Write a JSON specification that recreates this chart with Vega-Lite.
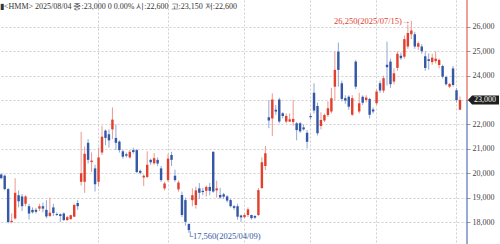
{
  "$schema": "https://vega.github.io/schema/vega-lite/v6.json",
  "width": 467,
  "height": 244,
  "padding": {"left": 0, "top": 0, "right": 33, "bottom": 0},
  "autosize": {"type": "none"},
  "background": "white",
  "config": {"view": {"stroke": null}, "font": "Liberation Sans Narrow"},
  "title": {"text": "▮<HMM> 2025/08/04 종:23,000 0 0.00% 시:22,600 고:23,150 저:22,600", "anchor": "start", "frame": "group", "orient": "top", "offset": -11, "fontSize": 8, "fontWeight": "normal", "color": "#333333", "font": "Liberation Sans Narrow"},
  "datasets": {
    "k": [
      {"d":"2025-01-16","o":19950,"h":20000,"l":19750,"c":19800},
      {"d":"2025-01-17","o":19900,"h":19950,"l":19300,"c":19350},
      {"d":"2025-01-20","o":19350,"h":19400,"l":17950,"c":18000},
      {"d":"2025-01-21","o":18000,"h":18350,"l":17950,"c":18050},
      {"d":"2025-01-22","o":18150,"h":19800,"l":18100,"c":19200},
      {"d":"2025-01-23","o":19100,"h":19300,"l":18600,"c":18850},
      {"d":"2025-01-24","o":19050,"h":19150,"l":18450,"c":18650},
      {"d":"2025-01-31","o":18750,"h":19100,"l":18650,"c":19050},
      {"d":"2025-02-03","o":18650,"h":18750,"l":18100,"c":18350},
      {"d":"2025-02-04","o":18500,"h":18600,"l":18350,"c":18400},
      {"d":"2025-02-05","o":18500,"h":18580,"l":18350,"c":18420},
      {"d":"2025-02-06","o":18550,"h":18750,"l":18450,"c":18650},
      {"d":"2025-02-07","o":18650,"h":18800,"l":18400,"c":18550},
      {"d":"2025-02-10","o":18500,"h":18900,"l":18150,"c":18230},
      {"d":"2025-02-11","o":18250,"h":19000,"l":18200,"c":18380},
      {"d":"2025-02-12","o":18600,"h":18750,"l":18250,"c":18370},
      {"d":"2025-02-13","o":18330,"h":18400,"l":18250,"c":18290},
      {"d":"2025-02-14","o":18320,"h":18350,"l":18000,"c":18250},
      {"d":"2025-02-17","o":18350,"h":18400,"l":18050,"c":18080},
      {"d":"2025-02-18","o":18080,"h":18250,"l":18050,"c":18200},
      {"d":"2025-02-19","o":18120,"h":18300,"l":18100,"c":18280},
      {"d":"2025-02-20","o":18220,"h":18750,"l":18200,"c":18700},
      {"d":"2025-02-21","o":18780,"h":18900,"l":18500,"c":18650},
      {"d":"2025-02-24","o":19650,"h":21700,"l":19500,"c":20000},
      {"d":"2025-02-25","o":19650,"h":21100,"l":19200,"c":20800},
      {"d":"2025-02-26","o":21250,"h":21400,"l":20400,"c":20550},
      {"d":"2025-02-27","o":20460,"h":20850,"l":20050,"c":20520},
      {"d":"2025-02-28","o":20200,"h":20350,"l":19250,"c":19550},
      {"d":"2025-03-04","o":19650,"h":21050,"l":19450,"c":20650},
      {"d":"2025-03-05","o":20850,"h":21950,"l":20750,"c":21500},
      {"d":"2025-03-06","o":21750,"h":21800,"l":21150,"c":21450},
      {"d":"2025-03-07","o":21600,"h":21800,"l":21050,"c":21350},
      {"d":"2025-03-10","o":21800,"h":22700,"l":21400,"c":22200},
      {"d":"2025-03-11","o":21450,"h":22000,"l":20950,"c":21250},
      {"d":"2025-03-12","o":21300,"h":21350,"l":20850,"c":20950},
      {"d":"2025-03-13","o":20900,"h":20950,"l":20600,"c":20680},
      {"d":"2025-03-14","o":20780,"h":20850,"l":20650,"c":20720},
      {"d":"2025-03-17","o":20650,"h":20950,"l":20600,"c":20880},
      {"d":"2025-03-18","o":20950,"h":21050,"l":20800,"c":20870},
      {"d":"2025-03-19","o":20950,"h":21000,"l":20000,"c":20050},
      {"d":"2025-03-20","o":20100,"h":20150,"l":19950,"c":20020},
      {"d":"2025-03-21","o":19830,"h":19950,"l":19480,"c":19900},
      {"d":"2025-03-24","o":19850,"h":20900,"l":19800,"c":20350},
      {"d":"2025-03-25","o":20550,"h":20600,"l":20350,"c":20450},
      {"d":"2025-03-26","o":20410,"h":20830,"l":20350,"c":20620},
      {"d":"2025-03-27","o":20550,"h":20650,"l":20300,"c":20400},
      {"d":"2025-03-28","o":20200,"h":20300,"l":19650,"c":19720},
      {"d":"2025-03-31","o":19380,"h":19650,"l":19300,"c":19580},
      {"d":"2025-04-01","o":19720,"h":20800,"l":19650,"c":20600},
      {"d":"2025-04-02","o":20750,"h":20880,"l":20300,"c":20550},
      {"d":"2025-04-03","o":19900,"h":20150,"l":19650,"c":19720},
      {"d":"2025-04-04","o":19340,"h":19700,"l":19250,"c":19620},
      {"d":"2025-04-07","o":19110,"h":19250,"l":18200,"c":18290},
      {"d":"2025-04-08","o":18900,"h":19000,"l":17850,"c":18010},
      {"d":"2025-04-09","o":17920,"h":17950,"l":17560,"c":17670},
      {"d":"2025-04-10","o":18900,"h":19380,"l":18650,"c":19100},
      {"d":"2025-04-11","o":18700,"h":19450,"l":18550,"c":19300},
      {"d":"2025-04-14","o":19380,"h":19600,"l":18950,"c":19200},
      {"d":"2025-04-15","o":19280,"h":19400,"l":19100,"c":19230},
      {"d":"2025-04-16","o":19280,"h":19500,"l":19050,"c":19440},
      {"d":"2025-04-17","o":19440,"h":19600,"l":19100,"c":19280},
      {"d":"2025-04-18","o":20880,"h":20900,"l":19200,"c":19250},
      {"d":"2025-04-21","o":19300,"h":19700,"l":19000,"c":19380},
      {"d":"2025-04-22","o":19110,"h":19400,"l":18950,"c":19010},
      {"d":"2025-04-23","o":19140,"h":19200,"l":18950,"c":19040},
      {"d":"2025-04-24","o":19050,"h":19100,"l":18800,"c":18880},
      {"d":"2025-04-25","o":18900,"h":18950,"l":18600,"c":18650},
      {"d":"2025-04-28","o":18650,"h":18700,"l":18500,"c":18580},
      {"d":"2025-04-29","o":18650,"h":18750,"l":18100,"c":18220},
      {"d":"2025-04-30","o":18270,"h":18300,"l":18000,"c":18190},
      {"d":"2025-05-02","o":18200,"h":18350,"l":18150,"c":18290},
      {"d":"2025-05-07","o":18290,"h":18600,"l":18200,"c":18520},
      {"d":"2025-05-08","o":18290,"h":18300,"l":18100,"c":18160},
      {"d":"2025-05-09","o":18250,"h":18280,"l":18120,"c":18180},
      {"d":"2025-05-12","o":18290,"h":19400,"l":18250,"c":19310},
      {"d":"2025-05-13","o":19400,"h":20650,"l":19350,"c":20450},
      {"d":"2025-05-14","o":20300,"h":21120,"l":20130,"c":20820},
      {"d":"2025-05-15","o":22300,"h":23000,"l":21850,"c":22160},
      {"d":"2025-05-16","o":22250,"h":23280,"l":21530,"c":23030},
      {"d":"2025-05-19","o":22600,"h":22800,"l":22400,"c":22530},
      {"d":"2025-05-20","o":23030,"h":23100,"l":22050,"c":22120},
      {"d":"2025-05-21","o":22460,"h":22500,"l":22250,"c":22350},
      {"d":"2025-05-22","o":22120,"h":22450,"l":22050,"c":22350},
      {"d":"2025-05-23","o":22120,"h":22450,"l":22100,"c":22210},
      {"d":"2025-05-26","o":22100,"h":23000,"l":21950,"c":22230},
      {"d":"2025-05-27","o":22050,"h":22100,"l":21350,"c":21770},
      {"d":"2025-05-28","o":22050,"h":22100,"l":21650,"c":21720},
      {"d":"2025-05-29","o":21880,"h":22000,"l":21750,"c":21800},
      {"d":"2025-05-30","o":21660,"h":21770,"l":21020,"c":21290},
      {"d":"2025-06-02","o":22350,"h":22450,"l":22200,"c":22300},
      {"d":"2025-06-04","o":23300,"h":23690,"l":22460,"c":22570},
      {"d":"2025-06-05","o":22760,"h":22900,"l":21550,"c":21640},
      {"d":"2025-06-09","o":21940,"h":22500,"l":21800,"c":22180},
      {"d":"2025-06-10","o":22160,"h":22450,"l":22100,"c":22390},
      {"d":"2025-06-11","o":22390,"h":22950,"l":22300,"c":22670},
      {"d":"2025-06-12","o":22530,"h":23500,"l":22450,"c":23080},
      {"d":"2025-06-13","o":23550,"h":25000,"l":23000,"c":24240},
      {"d":"2025-06-16","o":24990,"h":25360,"l":23550,"c":24240},
      {"d":"2025-06-17","o":23690,"h":23800,"l":22950,"c":23050},
      {"d":"2025-06-18","o":23080,"h":23200,"l":22850,"c":22980},
      {"d":"2025-06-19","o":23140,"h":23200,"l":22600,"c":22730},
      {"d":"2025-06-20","o":22400,"h":23200,"l":22350,"c":23080},
      {"d":"2025-06-23","o":24580,"h":24650,"l":23450,"c":23550},
      {"d":"2025-06-24","o":22530,"h":23300,"l":22450,"c":22870},
      {"d":"2025-06-25","o":23140,"h":23200,"l":22800,"c":22890},
      {"d":"2025-06-26","o":23000,"h":23200,"l":22900,"c":23110},
      {"d":"2025-06-27","o":23050,"h":23100,"l":22250,"c":22400},
      {"d":"2025-06-30","o":22620,"h":22700,"l":22450,"c":22530},
      {"d":"2025-07-01","o":22870,"h":23450,"l":22800,"c":23350},
      {"d":"2025-07-02","o":23690,"h":23800,"l":23300,"c":23390},
      {"d":"2025-07-03","o":23390,"h":24000,"l":23300,"c":23900},
      {"d":"2025-07-04","o":24450,"h":25400,"l":23600,"c":24350},
      {"d":"2025-07-07","o":24580,"h":24700,"l":23500,"c":23650},
      {"d":"2025-07-08","o":23760,"h":24300,"l":23650,"c":24100},
      {"d":"2025-07-09","o":24320,"h":25000,"l":24200,"c":24900},
      {"d":"2025-07-10","o":24820,"h":24950,"l":24650,"c":24720},
      {"d":"2025-07-11","o":24780,"h":25650,"l":24700,"c":25500},
      {"d":"2025-07-14","o":25200,"h":26100,"l":25100,"c":25750},
      {"d":"2025-07-15","o":25700,"h":26250,"l":25500,"c":25850},
      {"d":"2025-07-16","o":25700,"h":25800,"l":25100,"c":25200},
      {"d":"2025-07-17","o":25190,"h":25400,"l":25050,"c":25330},
      {"d":"2025-07-18","o":25200,"h":25300,"l":24900,"c":25000},
      {"d":"2025-07-21","o":24800,"h":25000,"l":24200,"c":24320},
      {"d":"2025-07-22","o":24680,"h":24920,"l":24250,"c":24600},
      {"d":"2025-07-23","o":24560,"h":24900,"l":24450,"c":24740},
      {"d":"2025-07-24","o":24600,"h":25000,"l":24500,"c":24700},
      {"d":"2025-07-25","o":24440,"h":24700,"l":24300,"c":24650},
      {"d":"2025-07-28","o":24400,"h":24450,"l":23900,"c":23960},
      {"d":"2025-07-29","o":23950,"h":24000,"l":23600,"c":23650},
      {"d":"2025-07-30","o":23550,"h":23700,"l":23500,"c":23660},
      {"d":"2025-07-31","o":24300,"h":24400,"l":23550,"c":23620},
      {"d":"2025-08-01","o":23400,"h":23500,"l":22900,"c":23000},
      {"d":"2025-08-04","o":22600,"h":23150,"l":22600,"c":23000}
    ]
  },
  "layer": [
    {
      "data": {"name": "k"},
      "mark": {"type": "rule", "strokeWidth": 1},
      "encoding": {
        "x": {"field": "d", "type": "ordinal", "scale": {"paddingInner": 0.3, "paddingOuter": 0.833, "align": 0},
          "axis": {"values": ["2025-03-04","2025-04-01","2025-05-02","2025-06-02","2025-07-01","2025-08-01"], "labels": false, "ticks": false, "domain": false, "grid": true, "gridColor": "#cfcfcf", "gridDash": [2, 2], "title": null}},
        "y": {"field": "l", "type": "quantitative", "scale": {"domain": [17100, 27105], "zero": false, "nice": false},
          "axis": {"orient": "right", "values": [18000,19000,20000,21000,22000,23000,24000,25000,26000], "format": ",d", "labelOverlap": false, "labelFontSize": 8, "labelColor": "#444444", "labelPadding": 2, "tickSize": 3, "tickColor": "#9a9a9a", "domain": false, "grid": true, "gridColor": "#cfcfcf", "gridDash": [2, 2], "title": null, "labelFont": "Liberation Sans Narrow"}},
        "y2": {"field": "h"},
        "color": {"condition": {"test": "datum.c >= datum.o", "value": "#eb9890"}, "value": "#92a8d4"}
      }
    },
    {
      "data": {"name": "k"},
      "mark": {"type": "bar"},
      "encoding": {
        "x": {"field": "d", "type": "ordinal",
          "axis": {"values": ["2025-03-04","2025-04-01","2025-05-02","2025-06-02","2025-07-01","2025-08-01"], "labels": false, "ticks": false, "domain": false, "grid": true, "gridColor": "#cfcfcf", "gridDash": [2, 2], "title": null}},
        "y": {"field": "o", "type": "quantitative",
          "axis": {"orient": "right", "values": [18000,19000,20000,21000,22000,23000,24000,25000,26000], "format": ",d", "labelOverlap": false, "labelFontSize": 8, "labelColor": "#444444", "labelPadding": 2, "tickSize": 3, "tickColor": "#9a9a9a", "domain": false, "grid": true, "gridColor": "#cfcfcf", "gridDash": [2, 2], "title": null, "labelFont": "Liberation Sans Narrow"}},
        "y2": {"field": "c"},
        "color": {"condition": {"test": "datum.c >= datum.o", "value": "#e2402f"}, "value": "#3458a6"}
      }
    },
    {
      "data": {"values": [{"d": "2025-08-04", "p": 23000, "q": 27105}]},
      "mark": {"type": "rule", "color": "#e2402f", "strokeWidth": 1},
      "encoding": {"x": {"value": "width"},
        "y": {"field": "p", "type": "quantitative",
          "axis": {"orient": "right", "values": [18000,19000,20000,21000,22000,23000,24000,25000,26000], "format": ",d", "labelOverlap": false, "labelFontSize": 8, "labelColor": "#444444", "labelPadding": 2, "tickSize": 3, "tickColor": "#9a9a9a", "domain": false, "grid": true, "gridColor": "#cfcfcf", "gridDash": [2, 2], "title": null, "labelFont": "Liberation Sans Narrow"}},
        "y2": {"field": "q"}}
    },
    {
      "data": {"values": [{"d": "2025-08-04", "p": 23000, "q": 17100}]},
      "mark": {"type": "rule", "color": "#3458a6", "strokeWidth": 1},
      "encoding": {"x": {"value": "width"},
        "y": {"field": "p", "type": "quantitative",
          "axis": {"orient": "right", "values": [18000,19000,20000,21000,22000,23000,24000,25000,26000], "format": ",d", "labelOverlap": false, "labelFontSize": 8, "labelColor": "#444444", "labelPadding": 2, "tickSize": 3, "tickColor": "#9a9a9a", "domain": false, "grid": true, "gridColor": "#cfcfcf", "gridDash": [2, 2], "title": null, "labelFont": "Liberation Sans Narrow"}},
        "y2": {"field": "q"}}
    },
    {
      "data": {"values": [{"d": "2025-07-15", "p": 26250, "t": "26,250(2025/07/15)→"}]},
      "mark": {"type": "text", "align": "right", "baseline": "middle", "dx": -1, "fontSize": 8.5, "color": "#e2402f", "font": "Liberation Sans Narrow"},
      "encoding": {
        "x": {"field": "d", "type": "ordinal",
          "axis": {"values": ["2025-03-04","2025-04-01","2025-05-02","2025-06-02","2025-07-01","2025-08-01"], "labels": false, "ticks": false, "domain": false, "grid": true, "gridColor": "#cfcfcf", "gridDash": [2, 2], "title": null}},
        "y": {"field": "p", "type": "quantitative",
          "axis": {"orient": "right", "values": [18000,19000,20000,21000,22000,23000,24000,25000,26000], "format": ",d", "labelOverlap": false, "labelFontSize": 8, "labelColor": "#444444", "labelPadding": 2, "tickSize": 3, "tickColor": "#9a9a9a", "domain": false, "grid": true, "gridColor": "#cfcfcf", "gridDash": [2, 2], "title": null, "labelFont": "Liberation Sans Narrow"}},
        "text": {"field": "t"}}
    },
    {
      "data": {"values": [{"d": "2025-04-09", "p": 17560, "t": "└17,560(2025/04/09)"}]},
      "mark": {"type": "text", "align": "left", "baseline": "middle", "dx": -2, "dy": 3, "fontSize": 8.5, "color": "#3458a6", "font": "Liberation Sans Narrow"},
      "encoding": {
        "x": {"field": "d", "type": "ordinal",
          "axis": {"values": ["2025-03-04","2025-04-01","2025-05-02","2025-06-02","2025-07-01","2025-08-01"], "labels": false, "ticks": false, "domain": false, "grid": true, "gridColor": "#cfcfcf", "gridDash": [2, 2], "title": null}},
        "y": {"field": "p", "type": "quantitative",
          "axis": {"orient": "right", "values": [18000,19000,20000,21000,22000,23000,24000,25000,26000], "format": ",d", "labelOverlap": false, "labelFontSize": 8, "labelColor": "#444444", "labelPadding": 2, "tickSize": 3, "tickColor": "#9a9a9a", "domain": false, "grid": true, "gridColor": "#cfcfcf", "gridDash": [2, 2], "title": null, "labelFont": "Liberation Sans Narrow"}},
        "text": {"field": "t"}}
    },
    {
      "data": {"values": [{"d": "2025-08-04", "p": 23000, "t": "23,000"}]},
      "mark": {"type": "point", "filled": true, "opacity": 1, "size": 4, "color": "#1e1e1e", "shape": "M8,0 L12,-4.5 L39,-4.5 L39,4.5 L12,4.5 Z"},
      "encoding": {
        "x": {"field": "d", "type": "ordinal",
          "axis": {"values": ["2025-03-04","2025-04-01","2025-05-02","2025-06-02","2025-07-01","2025-08-01"], "labels": false, "ticks": false, "domain": false, "grid": true, "gridColor": "#cfcfcf", "gridDash": [2, 2], "title": null}},
        "y": {"field": "p", "type": "quantitative",
          "axis": {"orient": "right", "values": [18000,19000,20000,21000,22000,23000,24000,25000,26000], "format": ",d", "labelOverlap": false, "labelFontSize": 8, "labelColor": "#444444", "labelPadding": 2, "tickSize": 3, "tickColor": "#9a9a9a", "domain": false, "grid": true, "gridColor": "#cfcfcf", "gridDash": [2, 2], "title": null, "labelFont": "Liberation Sans Narrow"}}}
    },
    {
      "data": {"values": [{"d": "2025-08-04", "p": 23000, "t": "23,000"}]},
      "mark": {"type": "text", "align": "left", "baseline": "middle", "dx": 14, "fontSize": 8, "color": "white", "font": "Liberation Sans Narrow"},
      "encoding": {
        "x": {"field": "d", "type": "ordinal",
          "axis": {"values": ["2025-03-04","2025-04-01","2025-05-02","2025-06-02","2025-07-01","2025-08-01"], "labels": false, "ticks": false, "domain": false, "grid": true, "gridColor": "#cfcfcf", "gridDash": [2, 2], "title": null}},
        "y": {"field": "p", "type": "quantitative",
          "axis": {"orient": "right", "values": [18000,19000,20000,21000,22000,23000,24000,25000,26000], "format": ",d", "labelOverlap": false, "labelFontSize": 8, "labelColor": "#444444", "labelPadding": 2, "tickSize": 3, "tickColor": "#9a9a9a", "domain": false, "grid": true, "gridColor": "#cfcfcf", "gridDash": [2, 2], "title": null, "labelFont": "Liberation Sans Narrow"}},
        "text": {"field": "t"}}
    }
  ]
}
